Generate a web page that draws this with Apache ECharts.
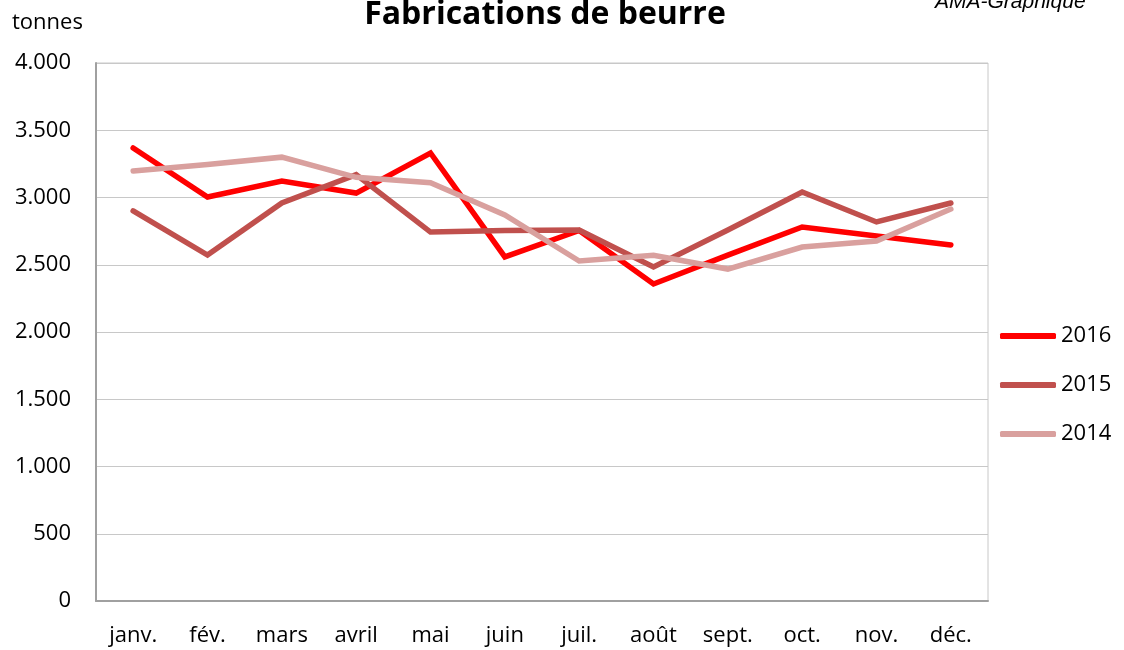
<!DOCTYPE html>
<html>
<head>
<meta charset="utf-8">
<title>Fabrications de beurre</title>
<script src="https://cdn.jsdelivr.net/npm/echarts@6/dist/echarts.min.js"></script>
<style>
    html, body { margin: 0; padding: 0; background: #fff; }
    #main { width: 1124px; height: 650px; }
</style>
</head>
<body>
<div id="main"></div>
<script>
    // mois
    var months = ['janv.', 'fév.', 'mars', 'avril', 'mai', 'juin', 'juil.', 'août', 'sept.', 'oct.', 'nov.', 'déc.'];

    // tonnes par année
    var y2016 = [3368, 3004, 3123, 3033, 3331, 2558, 2755, 2357, 2572, 2781, 2714, 2647];
    var y2015 = [2900, 2572, 2959, 3170, 2743, 2755, 2758, 2483, 2758, 3041, 2818, 2959];
    var y2014 = [3197, 3245, 3300, 3150, 3110, 2870, 2528, 2570, 2468, 2632, 2677, 2914];

    var yTicks = [0, 500, 1000, 1500, 2000, 2500, 3000, 3500, 4000];

    var font = '"Open Sans", "Noto Sans", sans-serif';

    function fmt(v) {
        // séparateur des milliers à la française : 4.000
        return String(v).replace(/\B(?=(\d{3})+(?!\d))/g, '.');
    }

    var chart = echarts.init(document.getElementById('main'));

    function line(name, data, color) {
        return {
            name: name,
            type: 'line',
            data: data,
            symbol: 'none',
            lineStyle: { width: 5.5, color: color, cap: 'round', join: 'miter' },
            itemStyle: { color: color },
            animation: false
        };
    }

    var option = {
        backgroundColor: '#fff',
        title: [
            {
                text: 'Fabrications de beurre',
                left: 540, top: -6, textAlign: 'center',
                textStyle: { fontFamily: font, fontSize: 32, fontWeight: 'bold', color: '#000' }
            },
            {
                text: 'tonnes',
                left: 7, top: 7,
                textStyle: { fontFamily: font, fontSize: 22, fontWeight: 'normal', color: '#000' }
            },
            {
                text: 'AMA-Graphique',
                left: 930, top: -13,
                textStyle: { fontFamily: '"Liberation Sans", Arial, sans-serif', fontSize: 21, fontStyle: 'italic', fontWeight: 'normal', color: '#000' }
            }
        ],
        legend: {
            orient: 'vertical',
            left: 995, top: 320,
            itemWidth: 56, itemHeight: 6,
            itemGap: 27,
            icon: 'roundRect',
            data: ['2016', '2015', '2014'],
            textStyle: { fontFamily: font, fontSize: 22, color: '#000', padding: [0, 0, 0, 0] }
        },
        grid: {
            left: 96, right: 136, top: 63, bottom: 49,
            show: true, borderColor: '#c8c8c8', borderWidth: 1
        },
        xAxis: {
            type: 'category',
            data: months,
            boundaryGap: true,
            axisLine: { lineStyle: { color: '#a0a0a0', width: 2 } },
            axisTick: { show: false },
            axisLabel: { fontFamily: font, fontSize: 22, color: '#000', margin: 24 }
        },
        yAxis: {
            type: 'value',
            min: yTicks[0], max: yTicks[yTicks.length - 1], interval: 500,
            axisLine: { show: true, lineStyle: { color: '#a0a0a0', width: 2 } },
            axisTick: { show: false },
            splitLine: { lineStyle: { color: '#c8c8c8', width: 1 } },
            axisLabel: { fontFamily: font, fontSize: 22, color: '#000', margin: 25, formatter: fmt }
        },
        series: [
            line('2016', y2016, '#ff0000'),
            line('2015', y2015, '#c0504d'),
            line('2014', y2014, '#d9a09e')
        ]
    };
    chart.setOption(option);
</script>
</body>
</html>
